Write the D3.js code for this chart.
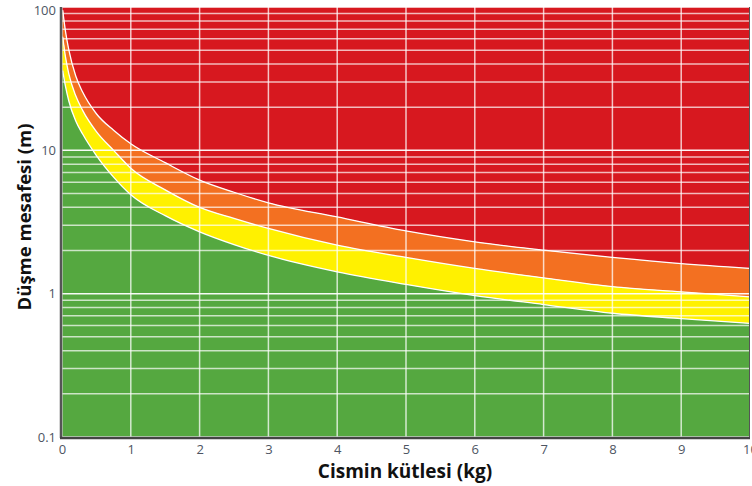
<!DOCTYPE html>
<html>
<head>
<meta charset="utf-8">
<script src="https://cdn.jsdelivr.net/npm/d3@7"></script>
<style>
  body { margin: 0; background: #fff; }
  svg { display: block; }
</style>
</head>
<body>
<div id="chart"></div>
<script>
// mass (kg) where the boundaries were read
const masses = [0.01, 0.05, 0.1, 0.2, 0.3, 0.5, 0.75, 1, 1.5, 2, 2.5, 3, 4, 5, 6, 7, 8, 9, 10];
// fall height (m) of each boundary
const greenTop  = [36, 28, 22, 16, 13, 9.2, 6.5, 4.9, 3.5, 2.7, 2.2, 1.85, 1.42, 1.16, 0.97, 0.84, 0.73, 0.67, 0.62];
const yellowTop = [62, 45, 34, 24, 19, 13.5, 10, 7.5, 5.3, 4.0, 3.35, 2.85, 2.18, 1.79, 1.50, 1.29, 1.12, 1.03, 0.95];
const orangeTop = [95, 68, 50, 33, 25.5, 18, 13.8, 11.1, 8.2, 6.2, 5.1, 4.3, 3.43, 2.74, 2.30, 2.01, 1.79, 1.62, 1.50];

const xTicks = [0, 1, 2, 3, 4, 5, 6, 7, 8, 9, 10];
const yTicks = [0.1, 1, 10, 100];

const width = 752, height = 486;
const margin = { top: 7, right: 2, bottom: 49, left: 62 };

const x = d3.scaleLinear()
    .domain([0, 10])
    .range([margin.left, width - margin.right]);

const y = d3.scaleLog()
    .domain([0.1, 100])
    .range([height - margin.bottom, margin.top]);

const svg = d3.select("#chart").append("svg")
    .attr("width", width)
    .attr("height", height)
    .attr("viewBox", [0, 0, width, height]);

svg.append("defs").append("clipPath").attr("id", "plot")
  .append("rect")
    .attr("x", x(0)).attr("y", y(100))
    .attr("width", x(10) - x(0)).attr("height", y(0.1) - y(100));

const plot = svg.append("g").attr("clip-path", "url(#plot)");

// bands, from the top down
const ceil = masses.map(() => 100);
const floor = masses.map(() => 0.1);
const bands = [
    { lo: orangeTop, hi: ceil,      color: "#d7181f" },
    { lo: yellowTop, hi: orangeTop, color: "#f37021" },
    { lo: greenTop,  hi: yellowTop, color: "#fff100" },
    { lo: floor,     hi: greenTop,  color: "#55a840" }
];

const area = d3.area()
    .curve(d3.curveMonotoneX)
    .x(d => x(d[0]))
    .y0(d => y(d[1]))
    .y1(d => y(d[2]));

// extend to the left edge
const xs = [0].concat(masses);
bands.forEach(b => {
    const lo = [b.lo[0]].concat(b.lo);
    const hi = [b.hi[0]].concat(b.hi);
    plot.append("path")
        .datum(xs.map((m, i) => [m, lo[i], hi[i]]))
        .attr("fill", b.color)
        .attr("d", area);
});

// grid
const minor = [];
[0.1, 1, 10].forEach(d => { for (let k = 1; k < 10; k++) minor.push(d * k); });
minor.push(100);

plot.append("g")
    .selectAll("line")
    .data(minor)
    .join("line")
      .attr("x1", x(0)).attr("x2", x(10))
      .attr("y1", d => y(d)).attr("y2", d => y(d))
      .attr("stroke", "#fff")
      .attr("stroke-opacity", d => yTicks.includes(d) ? 0.95 : 0.7)
      .attr("stroke-width", 1.5);

plot.append("g")
    .selectAll("line")
    .data(xTicks)
    .join("line")
      .attr("x1", d => x(d)).attr("x2", d => x(d))
      .attr("y1", y(100)).attr("y2", y(0.1))
      .attr("stroke", "#fff")
      .attr("stroke-opacity", 0.75)
      .attr("stroke-width", 1.5);

// white boundary lines
const line = d3.line()
    .curve(d3.curveMonotoneX)
    .x(d => x(d[0]))
    .y(d => y(d[1]));

[greenTop, yellowTop, orangeTop].forEach(s => {
    plot.append("path")
        .datum(masses.map((m, i) => [m, s[i]]))
        .attr("fill", "none")
        .attr("stroke", "#fff")
        .attr("stroke-width", 1.3)
        .attr("d", line);
});

// frame
svg.append("line")
    .attr("x1", x(0) - 1).attr("x2", x(0) - 1)
    .attr("y1", y(100)).attr("y2", y(0.1) + 1)
    .attr("stroke", "#555").attr("stroke-width", 2.5);
svg.append("line")
    .attr("x1", x(0) - 2).attr("x2", x(10))
    .attr("y1", y(0.1) + 1).attr("y2", y(0.1) + 1)
    .attr("stroke", "#444").attr("stroke-width", 2.5);
svg.append("line")
    .attr("x1", x(10) - 0.5).attr("x2", x(10) - 0.5)
    .attr("y1", y(100)).attr("y2", y(0.1))
    .attr("stroke", "#555").attr("stroke-width", 1);

// axes
const xAxis = g => g
    .attr("transform", `translate(0,${y(0.1) + 2})`)
    .call(d3.axisBottom(x).tickValues(xTicks).tickFormat(d3.format("d")).tickSize(0).tickPadding(6))
    .call(g => g.select(".domain").remove())
    .call(g => g.selectAll("text")
        .attr("fill", "#4d5563")
        .style("font-family", "'Open Sans', sans-serif")
        .style("font-size", "13px"));

const yAxis = g => g
    .attr("transform", `translate(${x(0) - 3},0)`)
    .call(d3.axisLeft(y).tickValues(yTicks).tickFormat(d => d).tickSize(0).tickPadding(3))
    .call(g => g.select(".domain").remove())
    .call(g => g.selectAll("text")
        .attr("fill", "#4d5563")
        .style("font-family", "'Open Sans', sans-serif")
        .style("font-size", "13px"));

svg.append("g").call(xAxis);
svg.append("g").call(yAxis);

// make sure 100 stays inside the page
svg.selectAll("text").filter(d => d === 100).attr("dy", "0.55em");

svg.append("text")
    .attr("x", 405)
    .attr("y", 478)
    .attr("text-anchor", "middle")
    .style("font-family", "'Open Sans', sans-serif")
    .style("font-weight", "bold")
    .style("font-size", "19px")
    .attr("fill", "#111")
    .text("Cismin kütlesi (kg)");

svg.append("text")
    .attr("transform", "translate(31,217) rotate(-90)")
    .attr("text-anchor", "middle")
    .style("font-family", "'Open Sans', sans-serif")
    .style("font-weight", "bold")
    .style("font-size", "18.5px")
    .attr("fill", "#111")
    .text("Düşme mesafesi (m)");
</script>
</body>
</html>
